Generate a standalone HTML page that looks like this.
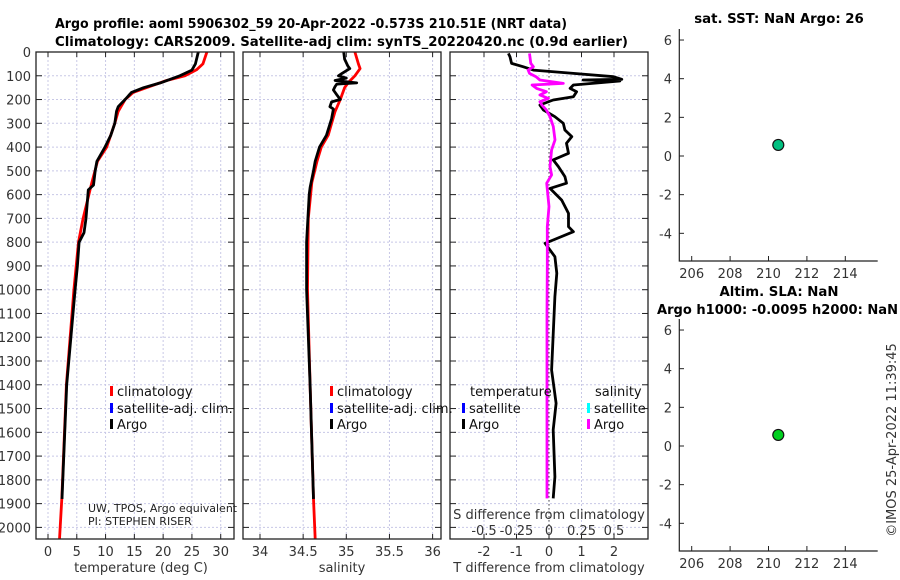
<!DOCTYPE html>
<html><head><meta charset="utf-8">
<style>
body{margin:0;background:#fff;}
svg{display:block;font-family:"DejaVu Sans","Liberation Sans",sans-serif;}
.tk{font-size:13px;fill:#333;}
.tt{font-size:13.3px;font-weight:bold;fill:#000;}
.lg{font-size:13px;fill:#111;}
</style></head>
<body>
<svg id="chart" width="900" height="580" viewBox="0 0 900 580" xmlns="http://www.w3.org/2000/svg">
<rect width="900" height="580" fill="#fff"/>
<g id="grid"></g>
<g id="series"></g>
<g id="frames"></g>
<text class="tt" x="55" y="28" textLength="512" lengthAdjust="spacingAndGlyphs">Argo profile: aoml 5906302_59 20-Apr-2022 -0.573S 210.51E (NRT data)</text>
<text class="tt" x="55" y="46" textLength="573" lengthAdjust="spacingAndGlyphs">Climatology: CARS2009. Satellite-adj clim: synTS_20220420.nc (0.9d earlier)</text>
<text class="tt" x="779" y="23" text-anchor="middle">sat. SST: NaN Argo: 26</text>
<text class="tt" x="779" y="296" text-anchor="middle">Altim. SLA: NaN</text>
<text class="tt" x="657" y="314" textLength="241" lengthAdjust="spacingAndGlyphs">Argo h1000: -0.0095 h2000: NaN</text>
<text class="tk" x="141" y="572" text-anchor="middle">temperature (deg C)</text>
<text class="tk" x="342" y="572" text-anchor="middle">salinity</text>
<text class="tk" x="549" y="572" text-anchor="middle">T difference from climatology</text>
<text class="tk" x="549" y="519" text-anchor="middle">S difference from climatology</text>
<text x="88" y="512" style="font-size:11px;fill:#222">UW, TPOS, Argo equivalent</text>
<text x="88" y="525" style="font-size:11px;fill:#222">PI: STEPHEN RISER</text>
<text class="tk" transform="translate(896,440) rotate(-90)" text-anchor="middle">©IMOS 25-Apr-2022 11:39:45</text>
<g id="legends"></g>
</svg>
<script>
// ---- data ----
const tDepth   = [0,50,76,100,130,150,170,200,230,250,300,350,400,460,500,560,580,700,760,800,900,1000,1400,1880];
const tArgo    = [26.1,25.6,25.0,22.9,19.5,16.6,14.5,13.4,12.2,11.9,11.6,10.9,9.9,8.5,8.2,7.9,7.0,6.6,6.25,5.4,5.1,4.7,3.25,2.43];
const tcDepth  = [0,50,75,100,120,150,170,200,250,300,400,460,550,700,800,1000,1400,1880,2050];
const tClim    = [27.6,26.9,25.8,23.8,20.6,17.1,14.8,13.4,12.2,11.6,10.2,8.6,7.6,6.1,5.3,4.5,3.2,2.4,2.0];
const sDepth   = [0,30,60,70,90,100,110,120,130,135,145,160,180,200,210,230,240,280,350,400,460,500,570,600,800,1000,1400,1880];
const sArgo    = [34.97,34.98,35.02,35.04,34.95,34.91,35.0,34.87,35.12,34.89,34.87,34.85,34.89,34.93,34.83,34.81,34.85,34.83,34.77,34.69,34.64,34.62,34.58,34.57,34.54,34.54,34.58,34.62];
const scDepth  = [0,50,70,100,130,150,200,250,300,350,400,460,550,700,1000,1400,1880,2050];
const sClim    = [35.1,35.14,35.16,35.1,35.02,34.98,34.93,34.87,34.83,34.79,34.71,34.66,34.6,34.56,34.55,34.58,34.62,34.64];
const dtDepth  = [6,20,48,62,76,90,104,115,118,122,139,153,167,188,202,223,244,272,300,328,356,384,426,454,482,524,552,574,623,679,735,756,791,805,861,931,1029,1338,1478,1590,1787,1878];
const dtArgo   = [-1.25,-1.2,-1.15,-0.8,-0.48,0.75,1.98,2.24,1.05,2.18,0.75,0.65,0.85,0.75,0.13,-0.28,-0.17,0.18,0.44,0.49,0.7,0.54,0.6,0.13,0.29,0.49,0.54,0.03,0.39,0.6,0.6,0.75,0.13,-0.12,0.18,0.24,0.18,0.08,0.22,0.13,0.18,0.13];
const dsDepth  = [6,48,62,76,90,104,118,132,139,153,167,181,195,209,223,244,272,314,370,412,482,517,552,650,735,900,1100,1400,1700,1878];
const dsArgo   = [-0.15,-0.14,-0.12,-0.16,-0.15,-0.1,-0.07,0.11,-0.13,-0.095,-0.02,-0.07,-0.005,-0.07,-0.055,-0.02,0.008,0.033,0.046,0.02,0.008,0.02,-0.018,0,-0.013,-0.013,-0.015,-0.015,-0.015,-0.015];
const lonVal = [210.51];
const latVal = [0.573];
const tempTicks = [0,5,10,15,20,25,30];
const salTicks = [34,34.5,35,35.5,36];
const salTickLabels = ["34","34.5","35","35.5","36"];
const dtTicks = [-2,-1,0,1,2];
const dsTicks = [-0.5,-0.25,0,0.25,0.5];
const dsTickLabels = ["-0.5","-0.25","0","0.25","0.5"];
const depthTicks = [0,100,200,300,400,500,600,700,800,900,1000,1100,1200,1300,1400,1500,1600,1700,1800,1900,2000];
const lonTicks = [206,208,210,212,214];
const latTicks = [6,4,2,0,-2,-4];

// ---- axes ----
const TOP=52, BOT=539;
const yD = d => 52 + d*0.2377;
const xT = t => 48 + t*5.757;
const xS = s => 260 + (s-34)*86.3;
const xDT = t => 549 + t*32.5;
const xDS = s => 549 + s*130;
const xLon = l => 691.7 + (l-206)*19.2;
const yLatTop = v => 156 - v*19.33;
const yLatBot = v => 446 - v*19.33;
const P = [{l:36,r:234},{l:243,r:441},{l:450,r:648}];
const NS='http://www.w3.org/2000/svg';
function mk(tag, attrs, parent, txt){
  const e=document.createElementNS(NS,tag);
  for(const k in attrs) e.setAttribute(k,attrs[k]);
  if(txt!==undefined) e.textContent=txt;
  parent.appendChild(e); return e;
}
const grid=document.getElementById('grid'), ser=document.getElementById('series'), fr=document.getElementById('frames'), leg=document.getElementById('legends');

function panelGrid(p, xs, name){
  xs.forEach(x=>{ const e=mk('line',{x1:x,x2:x,y1:TOP,y2:BOT,stroke:'#c8c8e6','stroke-width':1,'stroke-dasharray':'2,2'},grid);
     
    mk('line',{x1:x,x2:x,y1:BOT,y2:BOT-5,stroke:'#222'},fr); mk('line',{x1:x,x2:x,y1:TOP,y2:TOP+5,stroke:'#222'},fr);});
  depthTicks.forEach(d=>{ const y=yD(d);
    const e=mk('line',{x1:p.l,x2:p.r,y1:y,y2:y,stroke:'#c8c8e6','stroke-width':1,'stroke-dasharray':'2,2'},grid);
     
    mk('line',{x1:p.l,x2:p.l+6,y1:y,y2:y,stroke:'#222'},fr); mk('line',{x1:p.r,x2:p.r-6,y1:y,y2:y,stroke:'#222'},fr);});
  const b=mk('rect',{x:p.l,y:TOP,width:p.r-p.l,height:BOT-TOP,fill:'none',stroke:'#222','stroke-width':1.3},fr);
   
}
panelGrid(P[0], tempTicks.map(xT), 'temperature-panel');
panelGrid(P[1], salTicks.map(xS), 'salinity-panel');
panelGrid(P[2], dtTicks.map(xDT), 'difference-panel');

depthTicks.forEach(d=>{ const e=mk('text',{x:31,y:yD(d)+5,'text-anchor':'end',class:'tk'},fr,String(d));
   });
tempTicks.forEach(t=>{ const e=mk('text',{x:xT(t),y:556,'text-anchor':'middle',class:'tk'},fr,String(t));
   });
salTicks.forEach((s,i)=>{ const e=mk('text',{x:xS(s),y:556,'text-anchor':'middle',class:'tk'},fr,salTickLabels[i]);
   });
dtTicks.forEach(t=>{ const e=mk('text',{x:xDT(t),y:556,'text-anchor':'middle',class:'tk'},fr,String(t));
   });
dsTicks.forEach((s,i)=>{ const e=mk('text',{x:xDS(s),y:535,'text-anchor':'middle',class:'tk'},fr,dsTickLabels[i]);
   });
const zl=mk('line',{x1:xDT(0),x2:xDT(0),y1:TOP,y2:BOT,stroke:'#444','stroke-dasharray':'1.5,2.5'},grid);
 

function line(xs, ds, fx, color, w, name){
  const pts=xs.map((v,i)=>fx(v).toFixed(1)+','+yD(ds[i]).toFixed(1)).join(' ');
  const e=mk('polyline',{points:pts,fill:'none',stroke:color,'stroke-width':w,'stroke-linejoin':'round'},ser);
   
}
line(tClim, tcDepth, xT, '#ff0000', 2.8, 'temperature-climatology-line');
line(tArgo, tDepth, xT, '#000', 2.8, 'temperature-argo-line');
line(sClim, scDepth, xS, '#ff0000', 2.8, 'salinity-climatology-line');
line(sArgo, sDepth, xS, '#000', 2.8, 'salinity-argo-line');
line(dtArgo, dtDepth, xDT, '#000', 2.8, 't-diff-argo-line');
line(dsArgo, dsDepth, xDS, '#ff00ff', 2.8, 's-diff-argo-line');

// legends
function entry(x,y,color,label,name){
  const r=mk('rect',{x:x,y:y-9,width:3,height:10,fill:color},leg);
   
  const t=mk('text',{x:x+7,y:y+1,class:'lg'},leg,label);
   
}
entry(110,395,'#ff0000','climatology','temp-legend-climatology');
entry(110,412,'#0000ff','satellite-adj. clim.','temp-legend-satellite');
entry(110,428,'#000','Argo','temp-legend-argo');
entry(330,395,'#ff0000','climatology','sal-legend-climatology');
entry(330,412,'#0000ff','satellite-adj. clim.','sal-legend-satellite');
entry(330,428,'#000','Argo','sal-legend-argo');
{ const t=mk('text',{x:470,y:396,class:'lg'},leg,'temperature');  
  const s=mk('text',{x:595,y:396,class:'lg'},leg,'salinity');   }
entry(462,412,'#0000ff','satellite','diff-legend-t-satellite');
entry(462,428,'#000','Argo','diff-legend-t-argo');
entry(587,412,'#00ffff','satellite','diff-legend-s-satellite');
entry(587,428,'#ff00ff','Argo','diff-legend-s-argo');

// map panels
function mapPanel(yFn, top, bot, labY, color, name){
  const ax=mk('polyline',{points:`679.3,${top} 679.3,${bot} 877.7,${bot}`,fill:'none',stroke:'#222','stroke-width':1.2},fr);
   
  latTicks.forEach(v=>{ const y=yFn(v);
    mk('line',{x1:679.3,x2:684,y1:y,y2:y,stroke:'#222'},fr);
    const t=mk('text',{x:672,y:y+5,'text-anchor':'end',class:'tk'},fr,String(v));
     });
  lonTicks.forEach(l=>{ const x=xLon(l);
    mk('line',{x1:x,x2:x,y1:bot,y2:bot-5,stroke:'#222'},fr);
    const t=mk('text',{x:x,y:labY,'text-anchor':'middle',class:'tk'},fr,String(l));
     });
  lonVal.forEach((l,i)=>{ const c=mk('circle',{cx:xLon(l),cy:yFn(latVal[i]),r:5.5,fill:color,stroke:'#111','stroke-width':1.2},ser);
     });
}
mapPanel(yLatTop, 29, 261, 278, '#00c080', 'sst-map');
mapPanel(yLatBot, 319, 551, 568, '#00d020', 'sla-map');
</script>
</body></html>
